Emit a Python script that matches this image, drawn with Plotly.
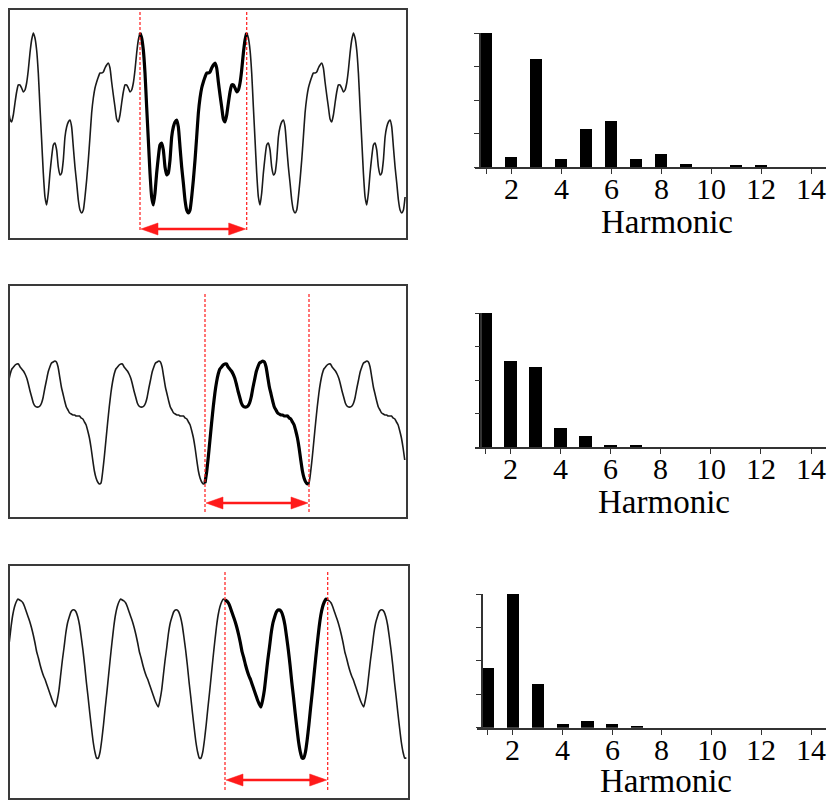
import numpy as np
import plotly.graph_objects as go

# ---------------- data ----------------
# One period of each waveform (signal level),
# starting at the left red marker (phase 0).
wave1_period = [206, 201, 189, 166, 132, 99, 66, 42, 34, 46, 66, 82, 94, 96, 89, 72,
                64, 66, 79, 102, 112, 117, 119, 112, 92, 72, 56, 39, 29, 26, 29, 42,
                59, 79, 102, 126, 141, 151, 157, 162, 166, 166, 167, 171, 174, 176, 171, 157,
                144, 132, 120, 117, 124, 136, 147, 154, 154, 151, 147, 149, 156, 169, 186, 199]
wave2_period = [35, 46, 61, 78, 95, 111, 125, 136, 144, 149, 151, 153, 154, 154, 151, 149,
                147, 144, 140, 134, 127, 121, 115, 112, 111, 111, 112, 115, 121, 130, 138, 146,
                151, 155, 156, 157, 156, 151, 141, 131, 124, 117, 111, 108, 105, 104, 103, 103,
                102, 102, 102, 100, 99, 96, 93, 87, 80, 70, 58, 47, 40, 36, 34]
wave3_period = [199, 198, 196, 192, 187, 182, 177, 171, 164, 156, 147, 141, 134, 128, 123, 119,
                114, 109, 104, 99, 95, 92, 99, 109, 124, 139, 152, 166, 176, 182, 187, 189,
                189, 187, 182, 174, 162, 149, 134, 117, 102, 86, 71, 57, 47, 41, 41, 47,
                59, 74, 91, 107, 124, 141, 157, 172, 184, 192, 197, 200]

harmonics = list(range(1, 15))
spectrum1 = [1.0, 0.075, 0.806, 0.06, 0.284, 0.341, 0.06, 0.095, 0.025, 0.0, 0.012, 0.012, 0.0, 0.0]
spectrum2 = [1.0, 0.644, 0.599, 0.144, 0.084, 0.012, 0.012, 0.0, 0.0, 0.0, 0.0, 0.0, 0.0, 0.0]
spectrum3 = [0.444, 1.0, 0.327, 0.025, 0.047, 0.025, 0.012, 0.0, 0.0, 0.0, 0.0, 0.0, 0.0, 0.0]

x_tickvals = [1, 2, 4, 6, 8, 10, 12, 14]
x_ticktext = ["", "2", "4", "6", "8", "10", "12", "14"]
y_tickvals = [0, 0.25, 0.5, 0.75, 1.0]
x_title = "Harmonic"

# ---------------- layout constants (reference pixels) ----------------
PAGE_OFF = 8            # browser body margin around the plot div
W, H = 835 - PAGE_OFF, 800 - PAGE_OFF
VISIBLE_RIGHT = 826     # rightmost page pixel that is actually shown

wave_panels = [
    dict(data=wave1_period, box=(7, 407, 5, 239), mark=140, period=106.7, span=(8, 406),
         dash=(12, 230), arrow=229),
    dict(data=wave2_period, box=(7, 407, 285, 518), mark=205, period=104.0, span=(7.5, 406),
         dash=(292, 512), arrow=503),
    dict(data=wave3_period, box=(8, 409, 565, 799), mark=225, period=102.7, span=(9.3, 406.7),
         dash=(570, 790), arrow=780),
]
H14 = 811               # px of harmonic 14 (kept inside the visible page)
bar_panels = [
    dict(data=spectrum1, xl=475, h1=486.0, base=167, top=33, spine=480,
         ticky=188, title=(667, 222)),
    dict(data=spectrum2, xl=475, h1=485.4, base=447, top=313, spine=480.7,
         ticky=468, title=(664, 502)),
    dict(data=spectrum3, xl=476.7, h1=487.7, base=727.7, top=594, spine=481.7,
         ticky=749, title=(666, 781)),
]

RED = "#ff1a1a"
SERIF = "Liberation Serif, Times New Roman, serif"
BOX_COLOR = "#3a3a3a"
BOX_W = 2

fig = go.Figure()
shapes = []
annotations = []


def px_x(p, pad=0.0):
    f = (p - PAGE_OFF) / W
    lo, hi = pad / W, 1 - pad / W
    return min(hi, max(lo, f))


def px_y(p, pad=0.0):
    f = 1 - (p - PAGE_OFF) / H
    lo, hi = pad / H, 1 - pad / H
    return min(hi, max(lo, f))


for i, wp in enumerate(wave_panels):
    ax_n = 2 * i + 1
    xa = "x" if ax_n == 1 else f"x{ax_n}"
    ya = "y" if ax_n == 1 else f"y{ax_n}"
    bl, br, bt, bb = wp["box"]
    per = wp["period"]
    mark = wp["mark"]
    samples = np.array(wp["data"], dtype=float)
    n = len(samples)
    t_start = (wp["span"][0] - mark) / per
    t_end = (wp["span"][1] - mark) / per
    idx = np.arange(int(np.floor(t_start * n)), int(np.ceil(t_end * n)) + 1)
    t = idx / n
    y = samples[idx % n]
    keep = (t >= t_start - 1e-9) & (t <= t_end + 1e-9)
    fig.add_trace(go.Scatter(x=t[keep], y=y[keep], mode="lines",
                             line=dict(color="#1a1a1a", width=1.6, shape="spline", smoothing=0.5),
                             xaxis=xa, yaxis=ya, showlegend=False, hoverinfo="skip"))
    bidx = np.arange(0, n + 1)
    fig.add_trace(go.Scatter(x=bidx / n, y=samples[bidx % n], mode="lines",
                             line=dict(color="black", width=3.2, shape="spline", smoothing=0.5),
                             xaxis=xa, yaxis=ya, showlegend=False, hoverinfo="skip"))

    d_x0, d_x1 = px_x(bl), px_x(br)
    d_y0, d_y1 = px_y(bb), px_y(bt)
    box_l = d_x0 * W + PAGE_OFF
    box_r = d_x1 * W + PAGE_OFF
    box_t = (1 - d_y1) * H + PAGE_OFF
    box_b = (1 - d_y0) * H + PAGE_OFF
    layout_x = dict(domain=[d_x0, d_x1], range=[(box_l - mark) / per, (box_r - mark) / per],
                    showgrid=False, zeroline=False, showticklabels=False, ticks="",
                    showline=False, anchor=ya, fixedrange=True)
    layout_y = dict(domain=[d_y0, d_y1], range=[bb - box_b, bb - box_t],
                    showgrid=False, zeroline=False, showticklabels=False, ticks="",
                    showline=False, anchor=xa, fixedrange=True)
    fig.update_layout(**{("xaxis" if ax_n == 1 else f"xaxis{ax_n}"): layout_x,
                         ("yaxis" if ax_n == 1 else f"yaxis{ax_n}"): layout_y})

    # frame around the waveform
    shapes.append(dict(type="rect", xref="paper", yref="paper",
                       x0=px_x(bl, BOX_W / 2), x1=px_x(br, BOX_W / 2),
                       y0=px_y(bb, BOX_W / 2), y1=px_y(bt, BOX_W / 2),
                       line=dict(color=BOX_COLOR, width=BOX_W), fillcolor="rgba(0,0,0,0)",
                       layer="above"))

    # red dashed period markers
    for tm in (0, 1):
        shapes.append(dict(type="line", xref=xa, yref="paper", x0=tm, x1=tm,
                           y0=px_y(wp["dash"][1]), y1=px_y(wp["dash"][0]),
                           line=dict(color=RED, width=1.2, dash="3px,2px")))
    # double-headed arrow
    lvl = bb - wp["arrow"]
    shapes.append(dict(type="line", xref=xa, yref=ya, x0=0.05, x1=0.95, y0=lvl, y1=lvl,
                       line=dict(color=RED, width=2.5)))
    shapes.append(dict(type="path", xref=xa, yref=ya, xsizemode="pixel", ysizemode="pixel",
                       xanchor=0, yanchor=lvl, path="M1,0 L18,6 L18,-6 Z",
                       fillcolor=RED, line=dict(color=RED, width=0.5)))
    shapes.append(dict(type="path", xref=xa, yref=ya, xsizemode="pixel", ysizemode="pixel",
                       xanchor=1, yanchor=lvl, path="M-1,0 L-18,6 L-18,-6 Z",
                       fillcolor=RED, line=dict(color=RED, width=0.5)))

for i, bp in enumerate(bar_panels):
    ax_n = 2 * i + 2
    xa = f"x{ax_n}"
    ya = f"y{ax_n}"
    fig.add_trace(go.Bar(x=harmonics, y=bp["data"], width=0.49,
                         marker=dict(color="black", line=dict(width=0)),
                         xaxis=xa, yaxis=ya, showlegend=False, hoverinfo="skip"))
    unit = (H14 - bp["h1"]) / 13
    xr = VISIBLE_RIGHT
    x0 = 1 - (bp["h1"] - bp["xl"]) / unit
    x1 = 1 + (xr - bp["h1"]) / unit
    fig.update_layout(**{
        f"xaxis{ax_n}": dict(domain=[px_x(bp["xl"]), px_x(xr)], range=[x0, x1],
                             tickvals=x_tickvals, ticks="outside", showticklabels=False,
                             ticklen=5, tickwidth=1, tickcolor="#333",
                             showline=True, linecolor="#333", linewidth=1.6,
                             showgrid=False, zeroline=False, anchor=ya,
                             fixedrange=True),
        f"yaxis{ax_n}": dict(domain=[px_y(bp["base"]), px_y(bp["top"])], range=[0, 1],
                             tickvals=y_tickvals, ticks="outside", ticklen=5, tickwidth=1,
                             tickcolor="#333", showticklabels=False,
                             showline=True, linecolor="#333", linewidth=1.6,
                             showgrid=False, zeroline=False, anchor="free",
                             position=px_x(bp["spine"]), fixedrange=True),
    })
    for tv, tt in zip(x_tickvals, x_ticktext):
        if not tt:
            continue
        annotations.append(dict(text=tt, xref=xa, yref="paper", x=tv, y=px_y(bp["ticky"]),
                                xanchor="center", yanchor="middle", showarrow=False,
                                font=dict(family=SERIF, size=30, color="black")))
    annotations.append(dict(text=x_title, xref="paper", yref="paper",
                            x=px_x(bp["title"][0]), y=px_y(bp["title"][1]),
                            xanchor="center", yanchor="middle", showarrow=False,
                            font=dict(family=SERIF, size=33, color="black")))

fig.update_layout(width=W, height=H, margin=dict(l=0, r=0, t=0, b=0),
                  paper_bgcolor="white", plot_bgcolor="white",
                  shapes=shapes, annotations=annotations, bargap=0)

fig.write_html("out.html")
